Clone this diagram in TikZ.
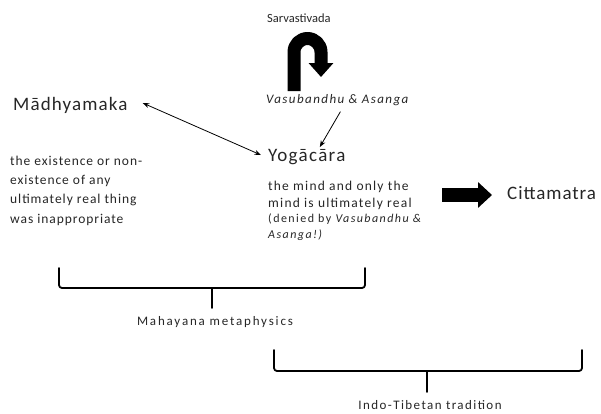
\documentclass[tikz,border=0pt]{standalone}
\usepackage{fontspec}
\setmainfont{Carlito}
\usetikzlibrary{arrows.meta}
\newcommand{\ls}[1]{\addfontfeature{LetterSpace=#1}}
\begin{document}
\begin{tikzpicture}[x=1pt,y=-1pt,line join=round,line cap=round,>=Stealth,
	txt/.style={inner sep=0pt,text=black!85,align=left},
	big/.style={txt,font=\fontsize{19}{22}\selectfont},
	mid/.style={txt,font=\fontsize{13.5}{19.2}\selectfont},
	tiny/.style={txt,font=\fontsize{13}{16}\selectfont},
	fat/.style={line width=13pt,line cap=butt},
	brace/.style={line width=1.8pt,rounded corners=3pt}]
	\useasboundingbox (0,0) rectangle (601,413);
	\node[tiny,anchor=west,font=\fontsize{12.5}{15}\selectfont] (sarv) at (267,18) {Sarvastivada};
	\node[tiny,anchor=west,font=\fontsize{13}{15}\selectfont\itshape\ls{11}] (vasu) at (266,100) {Vasubandhu \& Asanga};
	\node[big,anchor=west,font=\fontsize{19}{22}\selectfont\ls{6}] (madh) at (13,105) {Mādhyamaka};
	\node[big,anchor=west,font=\fontsize{19}{22}\selectfont\ls{7}] (yoga) at (268,157) {Yogācāra};
	\node[big,anchor=west,font=\fontsize{19}{22}\selectfont\ls{5}] (citta) at (507,193) {Cittamatra};
	\node[mid,anchor=north west,font=\fontsize{13.5}{19.2}\selectfont\ls{7}] (exist) at (10,156) {the existence or non-\\existence of any\\ultimately real thing\\was inappropriate};
	\node[mid,anchor=north west,font=\fontsize{13.5}{16.8}\selectfont\ls{9}] (mind) at (268,181) {the mind and only the\\mind is ultimately real};
	\node[tiny,anchor=north west,font=\fontsize{12}{15.5}\selectfont\ls{12}] (denied) at (268,214) {(denied by \textit{Vasubandhu \&}\\\textit{Asanga!)}};
	\node[tiny,font=\fontsize{13}{16}\selectfont\ls{14}] (maha) at (215,322) {Mahayana metaphysics};
	\node[tiny,font=\fontsize{13}{16}\selectfont\ls{11}] (indo) at (430,405) {Indo-Tibetan tradition};
	\draw[fat,-{Triangle[width=24pt,length=14pt]}] (294,91) -- (294,52) arc[start angle=180,end angle=360,radius=13.5] -- (321,77);
	\draw[thick,<->] ([xshift=15pt,yshift=2pt]madh.east) -- ([xshift=-7pt,yshift=2pt]yoga.west);
	\draw[thick,->] ([xshift=3pt,yshift=-6pt]vasu.south) -- ([xshift=13pt,yshift=2pt]yoga.north);
	\draw[fat,line width=14pt,-{Triangle[width=25pt,length=14pt]}] (442,195) -- ([xshift=-15pt,yshift=-2pt]citta.west);
	\draw[brace] (59,268) -- (59,288) -- (365,288) -- (365,268);
	\draw[brace,rounded corners=0pt] (212,288) -- (212,308);
	\draw[brace] (274,350) -- (274,371) -- (582,371) -- (582,350);
	\draw[brace,rounded corners=0pt] (427,371) -- (427,392);
\end{tikzpicture}
\end{document}
